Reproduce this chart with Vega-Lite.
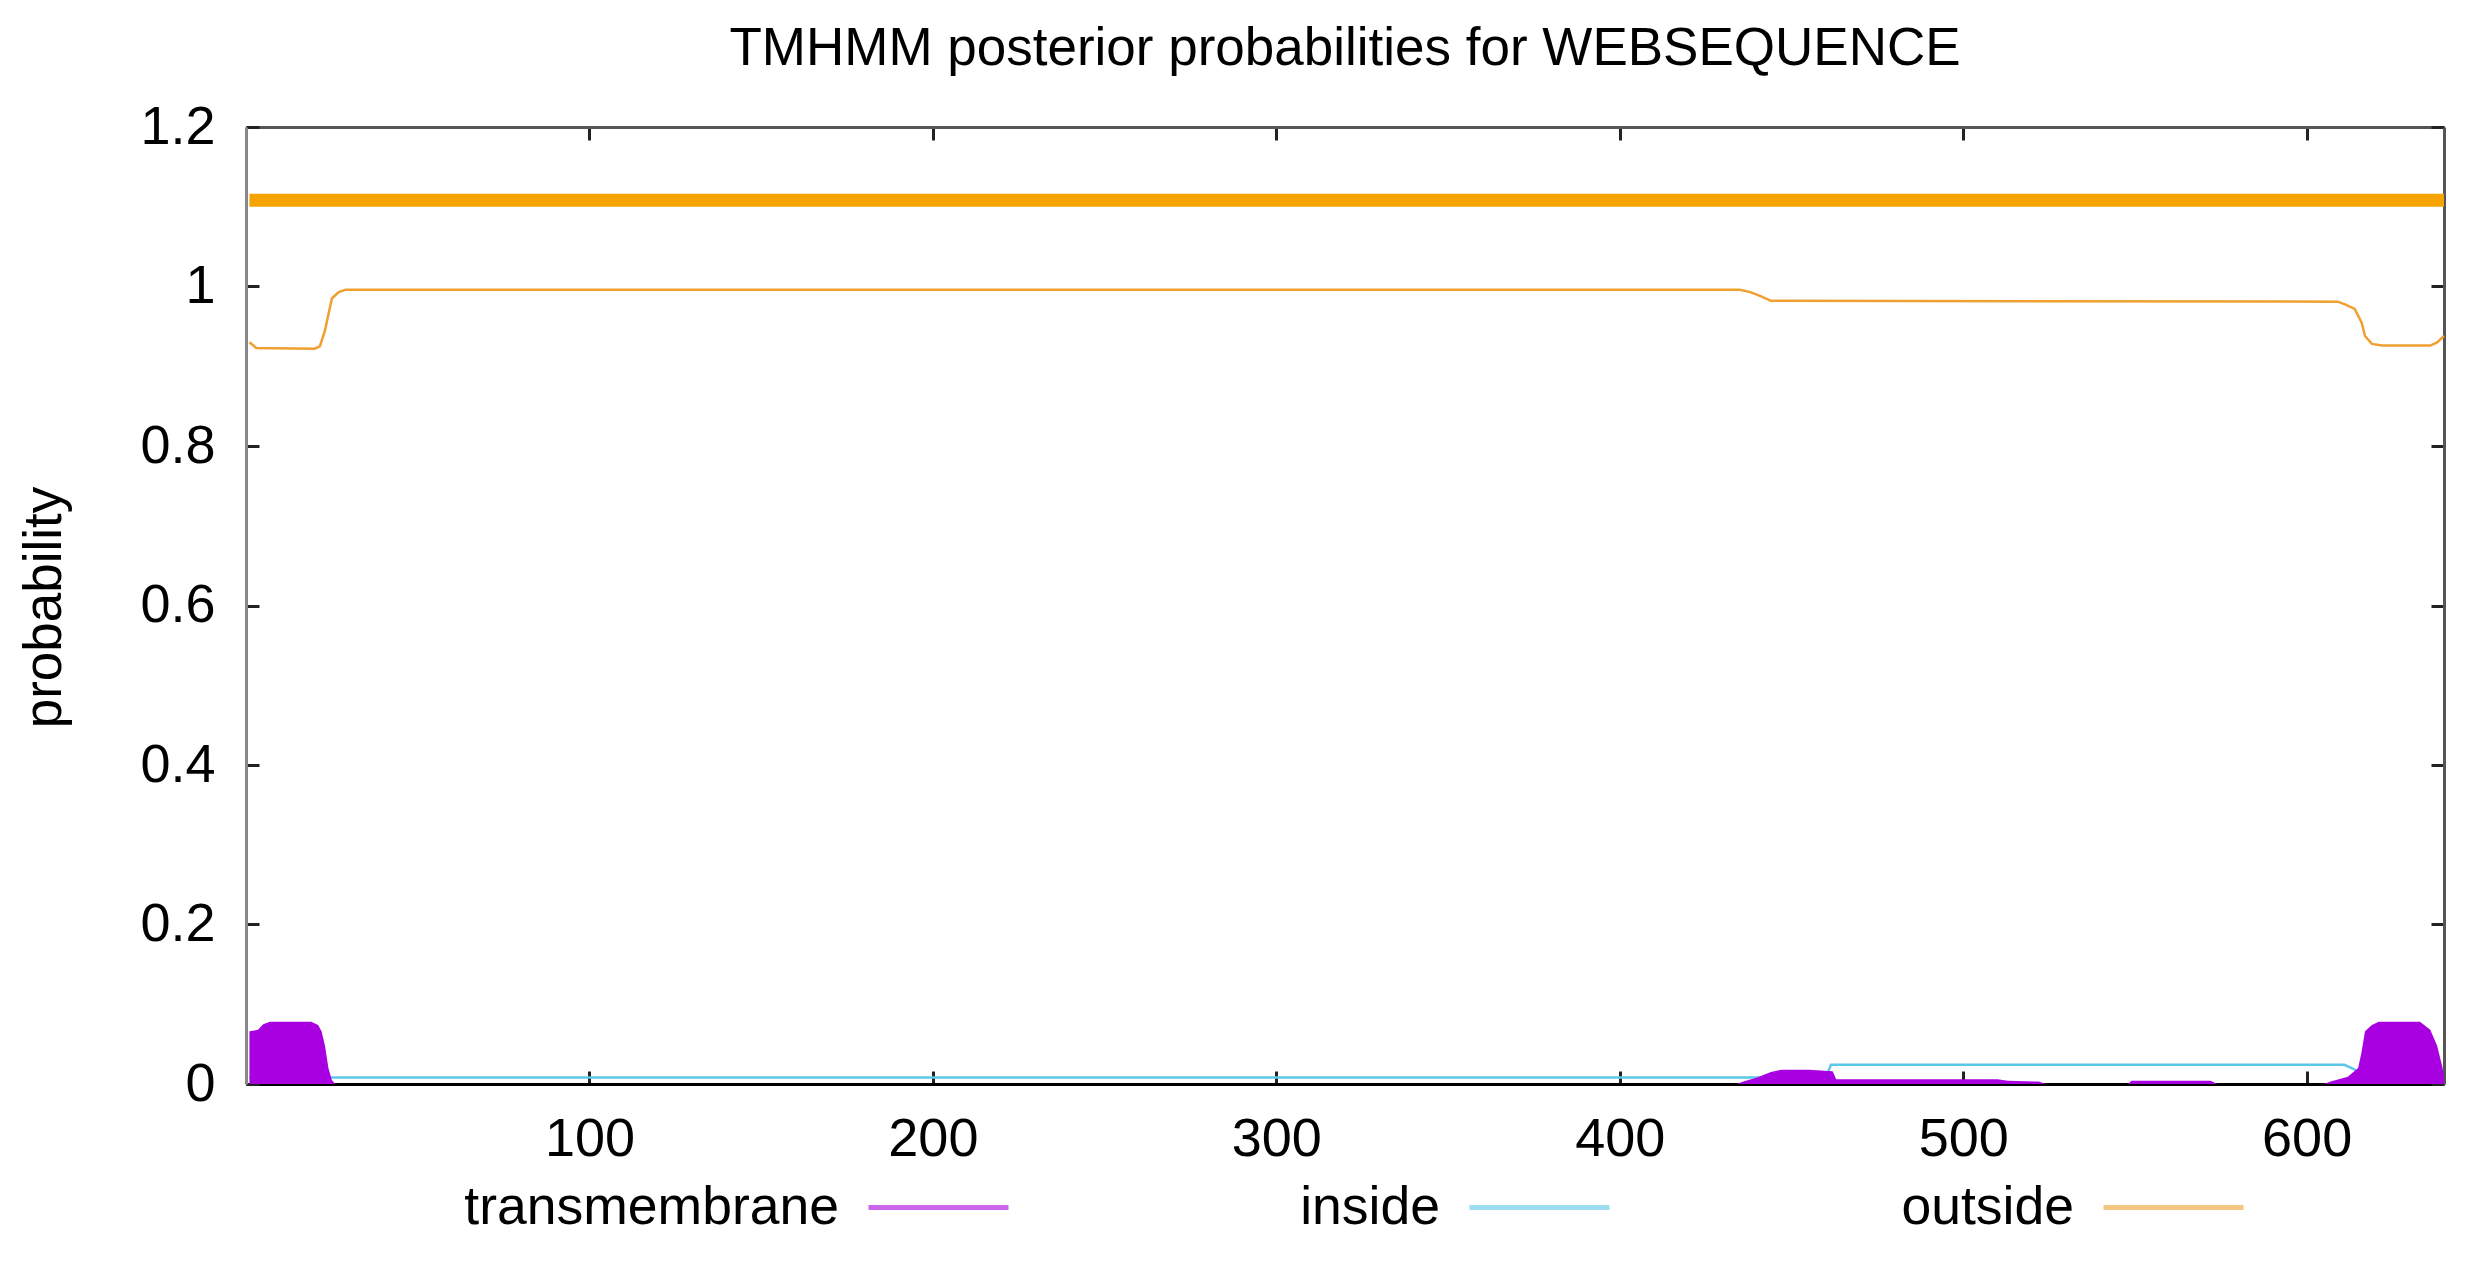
{
  "$schema": "https://vega.github.io/schema/vega-lite/v6.json",
  "width": 2198,
  "height": 957,
  "autosize": {"type": "none"},
  "padding": {"left": 246, "top": 127, "right": 48, "bottom": 182},
  "background": "white",
  "title": {"text": "TMHMM posterior probabilities for WEBSEQUENCE", "font": "Liberation Sans", "fontSize": 53, "fontWeight": "normal", "color": "#000", "offset": 24, "anchor": "middle"},
  "config": {
    "view": {"stroke": null},
    "axis": {"grid": false, "labelFont": "Liberation Sans", "labelFontSize": 54, "labelColor": "#000", "titleFont": "Liberation Sans", "titleFontSize": 53, "titleFontWeight": "normal", "titleColor": "#000", "tickSize": -13, "tickWidth": 3, "tickColor": "#222", "domainWidth": 3}
  },
  "datasets": {
    "bar": [{"start": 1, "end": 640, "level": 1.108}],
    "series": [
      {"pos": 1, "prob": 0.93, "series": "outside"},
      {"pos": 3, "prob": 0.923, "series": "outside"},
      {"pos": 20, "prob": 0.922, "series": "outside"},
      {"pos": 21.5, "prob": 0.925, "series": "outside"},
      {"pos": 23, "prob": 0.945, "series": "outside"},
      {"pos": 24, "prob": 0.965, "series": "outside"},
      {"pos": 25, "prob": 0.985, "series": "outside"},
      {"pos": 27, "prob": 0.993, "series": "outside"},
      {"pos": 29, "prob": 0.996, "series": "outside"},
      {"pos": 435, "prob": 0.996, "series": "outside"},
      {"pos": 438, "prob": 0.993, "series": "outside"},
      {"pos": 441, "prob": 0.988, "series": "outside"},
      {"pos": 444, "prob": 0.982, "series": "outside"},
      {"pos": 609, "prob": 0.981, "series": "outside"},
      {"pos": 611, "prob": 0.978, "series": "outside"},
      {"pos": 614, "prob": 0.972, "series": "outside"},
      {"pos": 616, "prob": 0.955, "series": "outside"},
      {"pos": 617, "prob": 0.938, "series": "outside"},
      {"pos": 619, "prob": 0.928, "series": "outside"},
      {"pos": 622, "prob": 0.926, "series": "outside"},
      {"pos": 636, "prob": 0.926, "series": "outside"},
      {"pos": 638, "prob": 0.93, "series": "outside"},
      {"pos": 640, "prob": 0.938, "series": "outside"},
      {"pos": 1, "prob": 0.008, "series": "inside"},
      {"pos": 20, "prob": 0.008, "series": "inside"},
      {"pos": 24, "prob": 0.008, "series": "inside"},
      {"pos": 27, "prob": 0.008, "series": "inside"},
      {"pos": 435, "prob": 0.008, "series": "inside"},
      {"pos": 460, "prob": 0.008, "series": "inside"},
      {"pos": 461.5, "prob": 0.024, "series": "inside"},
      {"pos": 611, "prob": 0.024, "series": "inside"},
      {"pos": 614, "prob": 0.018, "series": "inside"},
      {"pos": 617, "prob": 0.006, "series": "inside"},
      {"pos": 620, "prob": 0.002, "series": "inside"},
      {"pos": 640, "prob": 0.002, "series": "inside"},
      {"pos": 1, "prob": 0.066, "series": "transmembrane"},
      {"pos": 3.5, "prob": 0.068, "series": "transmembrane"},
      {"pos": 5, "prob": 0.075, "series": "transmembrane"},
      {"pos": 7, "prob": 0.078, "series": "transmembrane"},
      {"pos": 19, "prob": 0.078, "series": "transmembrane"},
      {"pos": 21, "prob": 0.074, "series": "transmembrane"},
      {"pos": 22, "prob": 0.066, "series": "transmembrane"},
      {"pos": 23, "prob": 0.048, "series": "transmembrane"},
      {"pos": 24, "prob": 0.02, "series": "transmembrane"},
      {"pos": 25, "prob": 0.005, "series": "transmembrane"},
      {"pos": 26, "prob": 0, "series": "transmembrane"},
      {"pos": 434, "prob": 0, "series": "transmembrane"},
      {"pos": 436, "prob": 0.003, "series": "transmembrane"},
      {"pos": 440, "prob": 0.008, "series": "transmembrane"},
      {"pos": 444, "prob": 0.015, "series": "transmembrane"},
      {"pos": 447, "prob": 0.018, "series": "transmembrane"},
      {"pos": 455, "prob": 0.018, "series": "transmembrane"},
      {"pos": 462, "prob": 0.016, "series": "transmembrane"},
      {"pos": 463, "prob": 0.006, "series": "transmembrane"},
      {"pos": 510, "prob": 0.006, "series": "transmembrane"},
      {"pos": 513, "prob": 0.004, "series": "transmembrane"},
      {"pos": 522, "prob": 0.003, "series": "transmembrane"},
      {"pos": 524, "prob": 0, "series": "transmembrane"},
      {"pos": 548, "prob": 0, "series": "transmembrane"},
      {"pos": 549, "prob": 0.004, "series": "transmembrane"},
      {"pos": 572, "prob": 0.004, "series": "transmembrane"},
      {"pos": 574, "prob": 0, "series": "transmembrane"},
      {"pos": 605, "prob": 0, "series": "transmembrane"},
      {"pos": 607, "prob": 0.003, "series": "transmembrane"},
      {"pos": 612, "prob": 0.009, "series": "transmembrane"},
      {"pos": 615, "prob": 0.02, "series": "transmembrane"},
      {"pos": 616, "prob": 0.04, "series": "transmembrane"},
      {"pos": 617, "prob": 0.066, "series": "transmembrane"},
      {"pos": 619, "prob": 0.074, "series": "transmembrane"},
      {"pos": 621, "prob": 0.078, "series": "transmembrane"},
      {"pos": 633, "prob": 0.078, "series": "transmembrane"},
      {"pos": 636, "prob": 0.068, "series": "transmembrane"},
      {"pos": 638, "prob": 0.048, "series": "transmembrane"},
      {"pos": 639.5, "prob": 0.022, "series": "transmembrane"},
      {"pos": 640, "prob": 0.01, "series": "transmembrane"}
    ]
  },
  "layer": [
    {
      "data": {"name": "bar"},
      "mark": {"type": "rule", "color": "#f5a300", "strokeWidth": 13},
      "encoding": {
        "x": {"field": "start", "type": "quantitative", "scale": {"domain": [0, 640], "nice": false, "zero": false},
              "axis": {"orient": "top", "labels": false, "title": null, "values": [100, 200, 300, 400, 500, 600], "domainColor": "#555"}},
        "x2": {"field": "end"},
        "y": {"field": "level", "type": "quantitative", "scale": {"domain": [0, 1.2], "nice": false},
              "axis": {"orient": "right", "labels": false, "title": null, "values": [0, 0.2, 0.4, 0.6, 0.8, 1, 1.2], "domainColor": "#555"}}
      }
    },
    {
      "data": {"name": "series"},
      "transform": [{"filter": "datum.series !== 'transmembrane'"}],
      "mark": {"type": "line", "strokeWidth": 2.5},
      "encoding": {
        "x": {"field": "pos", "type": "quantitative", "axis": null},
        "y": {"field": "prob", "type": "quantitative", "axis": null},
        "color": {
          "field": "series", "type": "nominal",
          "scale": {"domain": ["transmembrane", "inside", "outside"], "range": ["#a800e0", "#5cc8e8", "#f0a030"]},
          "legend": {
            "orient": "none", "legendX": 620, "legendY": 1008, "direction": "horizontal", "title": null,
            "symbolType": "stroke", "symbolSize": 19600, "symbolStrokeWidth": 5, "symbolOpacity": 0.6,
            "labelFont": "Liberation Sans", "labelFontSize": 53.5, "labelColor": "#000", "labelAlign": "right",
            "labelOffset": -172, "columnPadding": 281, "padding": 0, "labelLimit": 1000,
            "encode": {"symbols": {"update": {"stroke": {"scale": "color", "field": "value"}}}}
          }
        }
      }
    },
    {
      "data": {"name": "series"},
      "transform": [{"filter": "datum.series === 'transmembrane'"}],
      "mark": {"type": "area", "opacity": 1},
      "encoding": {
        "x": {"field": "pos", "type": "quantitative",
              "axis": {"orient": "bottom", "title": null, "values": [100, 200, 300, 400, 500, 600], "labelPadding": 41, "domainColor": "#000", "format": "d"}},
        "y": {"field": "prob", "type": "quantitative", "stack": null,
              "axis": {"orient": "left", "title": "probability", "values": [0, 0.2, 0.4, 0.6, 0.8, 1, 1.2], "format": "~g", "labelPadding": 44, "domainColor": "#888", "titleX": -202, "titleY": 480, "titleBaseline": "middle"}},
        "color": {"field": "series", "type": "nominal"}
      }
    }
  ],
  "resolve": {"axis": {"x": "independent", "y": "independent"}}
}
